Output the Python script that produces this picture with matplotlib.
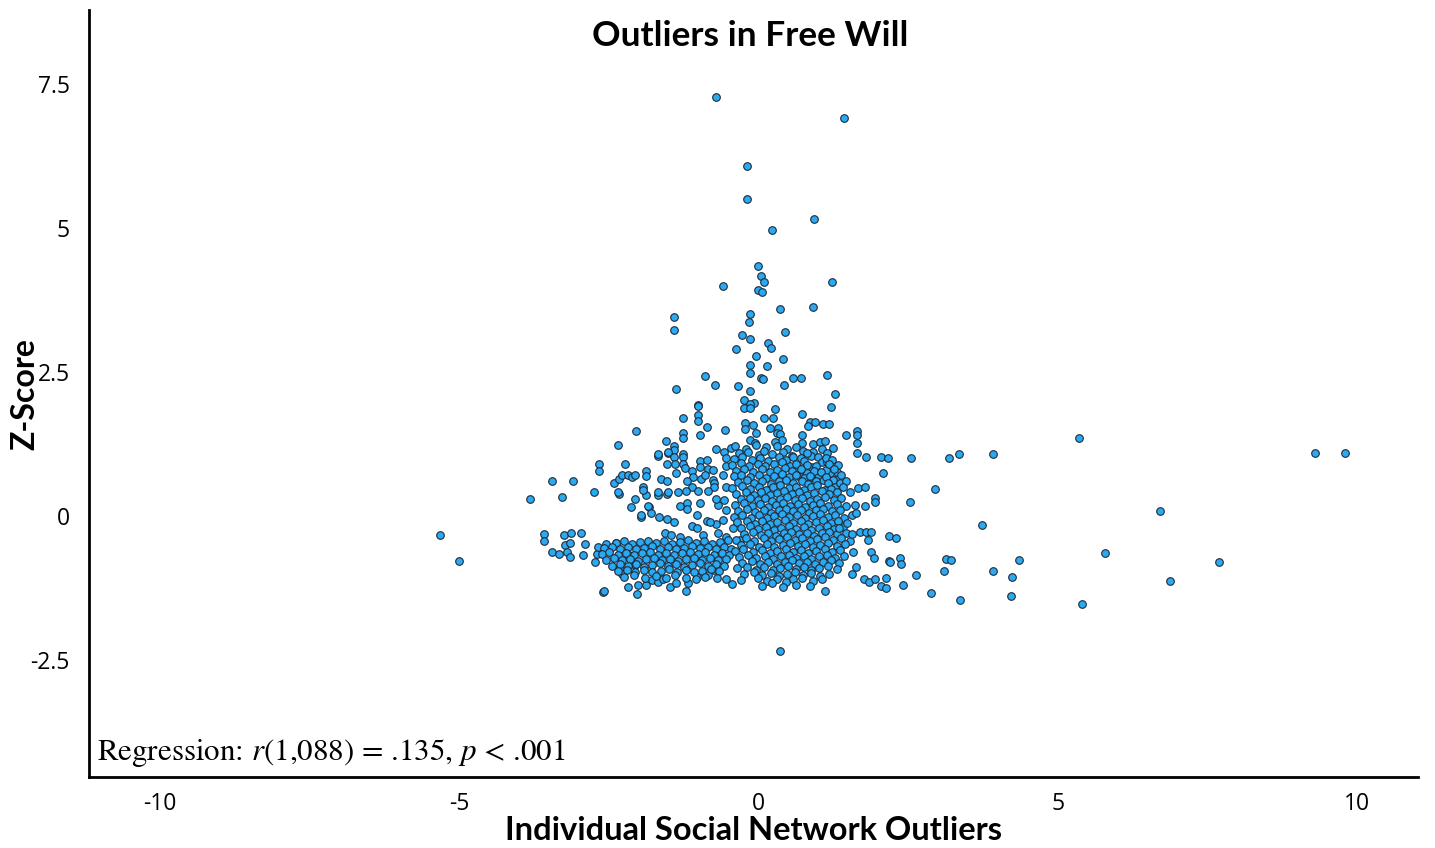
import numpy as np
import matplotlib.pyplot as plt

# ---------------------------------------------------------------
# data (x = network outlier score, y = z-score)
# ---------------------------------------------------------------
tail_pts = [
    (-0.72, 7.27), (1.43, 6.90), (-0.20, 6.08), (-0.20, 5.50), (0.92, 5.15), (0.22, 4.97),
    (-0.02, 4.34), (0.04, 4.17), (0.08, 4.06), (-0.60, 3.99), (1.23, 4.07), (-0.01, 3.92),
    (0.05, 3.89), (0.35, 3.60), (0.90, 3.62), (-1.41, 3.46), (-1.41, 3.23), (-0.15, 3.51),
    (-0.17, 3.37), (0.44, 3.19), (-0.28, 3.14), (-0.14, 3.08), (0.16, 3.00), (0.20, 2.92),
    (-0.38, 2.90), (-0.05, 2.78), (0.41, 2.72), (-0.14, 2.63), (-0.14, 2.49), (0.13, 2.60),
    (-0.90, 2.43), (0.03, 2.40), (0.07, 2.37), (0.57, 2.40), (0.71, 2.40), (1.14, 2.45),
    (-0.73, 2.28), (-0.35, 2.26), (0.42, 2.27), (-1.39, 2.20), (-0.14, 2.17), (1.28, 2.12),
    (-1.01, 1.92), (-0.25, 2.01), (-0.08, 1.97), (-0.14, 1.94), (-0.25, 1.88), (-0.14, 1.87),
    (0.27, 1.85), (1.21, 1.90),
]

upper_core_pts = [
    (0.08, 1.71), (0.24, 1.71), (0.73, 1.77), (0.85, 1.64), (0.94, 1.64), (0.82, 1.56),
    (1.07, 1.60), (1.18, 1.60), (-0.23, 1.62), (-0.10, 1.58), (-0.23, 1.51), (0.18, 1.52),
    (0.32, 1.52), (0.30, 1.44), (0.36, 1.42), (0.38, 1.32), (0.27, 1.29), (-0.04, 1.44),
    (-0.15, 1.32), (-0.07, 1.26), (0.72, 1.41), (0.72, 1.26), (0.74, 1.13), (0.90, 1.25),
    (1.02, 1.29), (1.10, 1.31), (0.91, 1.12), (1.06, 1.16), (1.14, 1.10), (1.24, 1.18),
    (0.70, 1.00), (0.88, 1.04), (0.99, 1.02), (1.05, 0.93), (1.14, 0.94),
    (1.30, 0.64), (1.30, 0.77), (1.19, 0.74), (1.24, 0.62), (1.13, 0.80), (1.07, 0.62),
    (0.99, 0.71), (0.88, 0.68), (0.88, 0.85), (0.80, 0.74), (0.69, 0.68), (0.66, 0.83),
    (1.27, 0.51), (1.10, 0.45),
]

upper_left_pts = [
    (-2.67, 0.90), (-2.67, 0.79), (-2.35, 1.24), (-2.05, 1.48), (-2.23, 0.90), (-2.34, 0.38),
    (-2.42, 0.57), (-2.34, 0.64), (-2.28, 0.72), (-2.19, 0.71), (-2.11, 0.68), (-2.07, 0.72),
    (-1.89, 0.78), (-1.89, 0.69), (-1.93, 0.50), (-1.89, 0.36), (-2.07, 0.29), (-2.13, 0.15),
    (-1.97, -0.01), (-1.84, 0.16), (-1.80, 0.06), (-1.67, -0.01), (-1.54, -0.05), (-1.69, 0.36),
    (-1.54, 0.38), (-1.64, 0.65), (-1.54, 0.61), (-1.68, 1.04), (-1.54, 0.90), (-1.51, 1.09),
    (-1.55, 1.30), (-1.02, 1.91), (-1.02, 1.75), (-1.02, 1.65), (-1.26, 1.70), (-0.86, 1.55),
    (-0.56, 1.49), (-1.26, 1.44), (-1.26, 1.35), (-0.99, 1.41), (-1.42, 1.22), (-1.42, 1.15),
    (-1.68, 1.07), (-1.52, 1.11), (-1.42, 1.03), (-1.26, 1.08), (-1.26, 1.03), (-1.26, 0.91),
    (-1.40, 0.90), (-1.38, 0.75), (-1.24, 0.83), (-1.11, 0.79), (-0.99, 0.95), (-0.99, 0.85),
    (-0.87, 0.97), (-0.85, 0.81), (-0.76, 0.80), (-1.10, 0.68), (-0.97, 0.65), (-0.90, 0.71),
    (-1.20, 0.60), (-1.11, 0.51), (-0.77, 0.63), (-0.74, 0.57), (-0.74, 0.51), (-0.71, 1.16),
    (-0.58, 1.12), (-0.46, 1.18), (-0.54, 1.00), (-0.54, 0.86), (-0.60, 0.71), (-0.54, 0.51),
    (-2.35, 0.42), (-1.93, 0.46), (-1.68, 0.42), (-1.52, 0.42), (-1.35, 0.42), (-1.21, 0.44),
    (-1.01, 0.44), (-0.85, 0.43), (-1.96, 0.02), (-1.85, 0.17), (-1.42, -0.10), (-1.32, 0.17),
    (-1.20, 0.23), (-1.20, 0.12), (-1.04, 0.02), (-0.99, 0.22), (-0.87, -0.08), (-0.72, -0.13),
    (-0.68, 0.19), (-0.54, 0.10), (-0.60, -0.07), (-0.82, -0.10), (-0.71, 0.30), (-0.58, 0.28),
]

left_band_pts = [
    (-3.59, -0.32), (-3.58, -0.44), (-3.45, -0.62), (-3.34, -0.66), (-3.25, -0.33), (-3.14, -0.30),
    (-2.97, -0.30), (-3.24, -0.51), (-3.15, -0.47), (-3.20, -0.63), (-3.16, -0.71), (-2.91, -0.49),
    (-2.93, -0.68), (-2.73, -0.79), (-2.70, -0.66), (-2.68, -0.53), (-2.56, -0.49), (-2.60, -1.31),
    (-2.34, -0.91), (-2.29, -1.01), (-2.39, -0.46), (-2.16, -0.68), (-2.07, -0.85),
    (-2.59, -1.30), (-2.18, -1.24), (-2.04, -1.35), (-2.02, -1.20), (-1.88, -1.20), (-1.79, -1.11),
    (-1.68, -1.14), (-1.60, -1.10), (-1.49, -1.23), (-1.38, -1.17), (-1.21, -1.30), (-1.18, -1.17),
    (-1.04, -1.05), (-0.85, -1.02), (-0.74, -0.94), (-0.54, -1.10), (-0.44, -1.18),
    (-1.57, -0.29), (-1.46, -0.33), (-1.32, -0.36), (-1.12, -0.17), (-1.04, -0.21), (-0.93, -0.33),
    (-0.68, -0.30), (-0.54, -0.36), (-0.43, -0.21), (-0.32, -0.42),
    (-2.38, -0.47), (-2.25, -0.44), (-2.12, -0.48), (-1.98, -0.45), (-1.85, -0.43), (-1.72, -0.47),
    (-1.58, -0.44), (-1.45, -0.49), (-1.32, -0.45), (-1.18, -0.42), (-1.05, -0.47), (-0.92, -0.44),
    (-0.78, -0.48), (-0.65, -0.45), (-0.52, -0.42),
    (-2.58, -0.56), (-2.45, -0.53), (-2.31, -0.57), (-2.18, -0.54), (-2.05, -0.58), (-1.91, -0.55),
    (-1.78, -0.52), (-1.65, -0.57), (-1.51, -0.54), (-1.38, -0.58), (-1.25, -0.55), (-1.11, -0.52),
    (-0.98, -0.56), (-0.85, -0.53), (-0.71, -0.57), (-0.58, -0.54), (-0.47, -0.58),
    (-2.62, -0.66), (-2.50, -0.63), (-2.36, -0.67), (-2.22, -0.64), (-2.09, -0.68), (-1.95, -0.65),
    (-1.82, -0.62), (-1.69, -0.67), (-1.55, -0.64), (-1.42, -0.68), (-1.29, -0.65), (-1.15, -0.62),
    (-1.02, -0.66), (-0.89, -0.63), (-0.75, -0.67), (-0.62, -0.64), (-0.50, -0.68),
    (-2.55, -0.76), (-2.42, -0.73), (-2.28, -0.77), (-2.15, -0.74), (-2.01, -0.78), (-1.88, -0.75),
    (-1.75, -0.72), (-1.61, -0.77), (-1.48, -0.74), (-1.35, -0.78), (-1.21, -0.75), (-1.08, -0.72),
    (-0.95, -0.76), (-0.81, -0.73), (-0.68, -0.77), (-0.55, -0.74),
    (-2.45, -0.86), (-2.32, -0.83), (-2.18, -0.87), (-2.05, -0.84), (-1.92, -0.88), (-1.78, -0.85),
    (-1.65, -0.82), (-1.52, -0.87), (-1.38, -0.84), (-1.25, -0.88), (-1.12, -0.85), (-0.98, -0.82),
    (-0.85, -0.86), (-0.72, -0.83), (-0.58, -0.87),
    (-2.35, -0.96), (-2.20, -0.93), (-2.06, -0.97), (-1.92, -0.94), (-1.78, -0.98), (-1.64, -0.95),
    (-1.50, -0.92), (-1.36, -0.97), (-1.22, -0.94), (-1.08, -0.98), (-0.94, -0.95), (-0.80, -0.92),
    (-0.66, -0.96),
    (-2.25, -1.06), (-2.08, -1.03), (-1.90, -1.07), (-1.72, -1.04), (-1.55, -1.08), (-1.40, -1.02),
    (-1.22, -1.07), (-1.05, -1.10), (-0.90, -1.05), (-0.70, -1.08),
]

core_pts = [
    (-0.40, 1.21), (-0.22, 1.17), (-0.05, 1.23), (0.12, 1.19), (0.30, 1.22), (0.48, 1.16), (0.62, 1.20),
    (-0.33, 1.09), (-0.18, 1.12), (0.00, 1.06), (0.08, 1.13), (0.22, 1.08), (0.40, 1.11), (0.55, 1.05),
    (0.80, 1.10),
    (-0.42, 0.99), (-0.28, 1.03), (-0.12, 0.97), (0.02, 1.01), (0.15, 0.96), (0.33, 1.02), (0.45, 0.98),
    (0.58, 1.03), (0.75, 0.96), (1.12, 1.00), (1.22, 0.97),
    (-0.45, 0.88), (-0.30, 0.92), (-0.16, 0.87), (-0.02, 0.91), (0.10, 0.86), (0.25, 0.90), (0.38, 0.93),
    (0.52, 0.87), (0.63, 0.91), (0.80, 0.89), (0.95, 0.86), (1.18, 0.90), (1.32, 0.88),
    (-0.38, 0.79), (-0.25, 0.82), (-0.10, 0.77), (0.05, 0.81), (0.18, 0.76), (0.30, 0.80), (0.44, 0.83),
    (0.56, 0.78), (0.70, 0.82), (0.92, 0.79), (1.04, 0.77), (1.25, 0.81),
    (-0.42, 0.69), (-0.30, 0.72), (-0.15, 0.67), (0.00, 0.71), (0.12, 0.66), (0.26, 0.70), (0.38, 0.73),
    (0.50, 0.68), (0.62, 0.71), (0.75, 0.66), (0.86, 0.70), (1.12, 0.68), (1.38, 0.71),
    (-0.35, 0.59), (-0.20, 0.62), (-0.08, 0.57), (0.06, 0.61), (0.20, 0.56), (0.33, 0.60), (0.46, 0.63),
    (0.58, 0.58), (0.72, 0.61), (0.83, 0.56), (0.95, 0.60), (1.15, 0.58), (1.36, 0.57), (1.46, 0.61),
    (-0.45, 0.49), (-0.28, 0.52), (-0.14, 0.47), (0.00, 0.51), (0.12, 0.46), (0.24, 0.50), (0.36, 0.53),
    (0.50, 0.48), (0.62, 0.51), (0.76, 0.46), (0.88, 0.50), (0.98, 0.53), (1.20, 0.47), (1.40, 0.50),
    (-0.38, 0.39), (-0.22, 0.42), (-0.08, 0.37), (0.04, 0.41), (0.18, 0.36), (0.30, 0.40), (0.42, 0.43),
    (0.55, 0.38), (0.68, 0.41), (0.80, 0.36), (0.93, 0.40), (1.05, 0.43), (1.17, 0.38), (1.30, 0.41),
    (-0.30, 0.29), (-0.15, 0.32), (-0.02, 0.27), (0.10, 0.31), (0.22, 0.26), (0.35, 0.30), (0.48, 0.33),
    (0.60, 0.28), (0.72, 0.31), (0.86, 0.26), (0.98, 0.30), (1.10, 0.33), (1.25, 0.28), (1.38, 0.31),
    (-0.40, 0.19), (-0.25, 0.22), (-0.12, 0.17), (0.02, 0.21), (0.15, 0.16), (0.28, 0.20), (0.40, 0.23),
    (0.53, 0.18), (0.66, 0.21), (0.78, 0.16), (0.90, 0.20), (1.02, 0.23), (1.15, 0.18), (1.30, 0.21),
    (1.45, 0.17),
    (-0.34, 0.09), (-0.20, 0.12), (-0.06, 0.07), (0.08, 0.11), (0.20, 0.06), (0.33, 0.10), (0.46, 0.13),
    (0.58, 0.08), (0.70, 0.11), (0.84, 0.06), (0.96, 0.10), (1.08, 0.13), (1.22, 0.08), (1.36, 0.11),
    (-0.42, -0.01), (-0.28, 0.02), (-0.13, -0.03), (0.00, 0.01), (0.13, -0.04), (0.26, 0.00), (0.38, 0.03),
    (0.51, -0.02), (0.64, 0.01), (0.77, -0.04), (0.90, 0.00), (1.02, 0.03), (1.15, -0.02), (1.28, 0.01),
    (1.42, -0.03), (1.55, 0.02),
    (-0.36, -0.11), (-0.20, -0.08), (-0.07, -0.13), (0.06, -0.09), (0.19, -0.14), (0.31, -0.10),
    (0.44, -0.07), (0.57, -0.12), (0.70, -0.09), (0.82, -0.14), (0.95, -0.10), (1.08, -0.07),
    (1.20, -0.12), (1.33, -0.09),
    (-0.30, -0.21), (-0.15, -0.18), (-0.02, -0.23), (0.12, -0.19), (0.25, -0.24), (0.37, -0.20),
    (0.50, -0.17), (0.63, -0.22), (0.75, -0.19), (0.88, -0.24), (1.00, -0.20), (1.14, -0.17),
    (1.26, -0.22), (1.40, -0.19),
    (-0.25, -0.31), (-0.10, -0.28), (0.03, -0.33), (0.16, -0.29), (0.29, -0.34), (0.42, -0.30),
    (0.54, -0.27), (0.67, -0.32), (0.80, -0.29), (0.93, -0.34), (1.05, -0.30), (1.18, -0.27),
    (1.30, -0.32), (1.45, -0.29),
    (-0.38, -0.41), (-0.22, -0.38), (-0.08, -0.43), (0.08, -0.39), (0.21, -0.44), (0.34, -0.40),
    (0.47, -0.37), (0.60, -0.42), (0.72, -0.39), (0.85, -0.44), (0.98, -0.40), (1.10, -0.37),
    (1.24, -0.42), (1.38, -0.39), (1.52, -0.44),
    (-0.30, -0.51), (-0.15, -0.48), (0.00, -0.53), (0.13, -0.49), (0.26, -0.54), (0.40, -0.50),
    (0.52, -0.47), (0.65, -0.52), (0.78, -0.49), (0.90, -0.54), (1.03, -0.50), (1.16, -0.47),
    (1.30, -0.52), (1.44, -0.49),
    (-0.40, -0.61), (-0.26, -0.58), (-0.10, -0.63), (0.05, -0.59), (0.18, -0.64), (0.31, -0.60),
    (0.45, -0.57), (0.57, -0.62), (0.70, -0.59), (0.83, -0.64), (0.96, -0.60), (1.10, -0.57),
    (1.22, -0.62), (1.36, -0.59), (1.58, -0.63),
    (-0.33, -0.71), (-0.18, -0.68), (-0.04, -0.73), (0.10, -0.69), (0.24, -0.74), (0.37, -0.70),
    (0.50, -0.67), (0.62, -0.72), (0.75, -0.69), (0.88, -0.74), (1.00, -0.70), (1.14, -0.67),
    (1.28, -0.72), (1.42, -0.69),
    (-0.28, -0.81), (-0.12, -0.78), (0.02, -0.83), (0.16, -0.79), (0.30, -0.84), (0.43, -0.80),
    (0.56, -0.77), (0.68, -0.82), (0.81, -0.79), (0.94, -0.84), (1.07, -0.80), (1.20, -0.77),
    (1.34, -0.82),
    (-0.36, -0.91), (-0.20, -0.88), (-0.05, -0.93), (0.09, -0.89), (0.23, -0.94), (0.36, -0.90),
    (0.49, -0.87), (0.62, -0.92), (0.75, -0.89), (0.88, -0.94), (1.01, -0.90), (1.15, -0.87),
    (1.30, -0.92),
    (-0.25, -1.01), (-0.08, -0.98), (0.06, -1.03), (0.20, -0.99), (0.34, -1.04), (0.48, -1.00),
    (0.60, -0.97), (0.74, -1.02), (0.88, -0.99), (1.02, -1.04), (1.18, -1.00),
    (-0.30, -1.11), (-0.02, -1.08), (0.14, -1.13), (0.30, -1.09), (0.45, -1.14), (0.58, -1.10),
    (0.72, -1.07), (0.90, -1.12), (1.05, -1.09),
    (0.05, -1.21), (0.22, -1.17), (0.40, -1.23), (0.62, -1.19), (0.85, -1.22),
]

right_pts = [
    (1.46, 1.41), (1.64, 1.48), (1.64, 1.41), (1.64, 1.26), (1.64, 1.09), (1.79, 1.03), (2.04, 1.02),
    (2.16, 1.01), (2.55, 1.00), (2.07, 0.75), (1.66, 0.48), (1.77, 0.50), (1.52, 0.42), (1.60, 0.19),
    (1.77, 0.18), (1.94, 0.31), (1.94, 0.24), (1.63, 0.05), (1.47, -0.12), (1.34, -0.20), (1.55, -0.31),
    (1.69, -0.27), (1.79, -0.27), (1.88, -0.27), (1.83, -0.41), (2.18, -0.35), (2.30, -0.38),
    (1.88, -0.62), (1.93, -0.73), (2.18, -0.78), (2.36, -0.73), (2.37, -0.83), (1.62, -0.89),
    (1.55, -1.00), (1.75, -1.09), (1.84, -1.15), (1.95, -1.09), (2.12, -1.07), (2.05, -1.22),
    (2.13, -1.25), (1.10, -1.30), (2.41, -1.20), (2.52, 0.25), (2.95, 0.47), (2.20, -0.79),
]

far_pts = [
    (3.18, 1.01), (3.35, 1.08), (3.91, 1.07), (5.35, 1.35), (9.29, 1.10), (9.80, 1.09), (6.70, 0.09),
    (3.73, -0.16), (5.78, -0.65), (7.69, -0.79), (6.87, -1.13), (4.35, -0.77), (3.91, -0.95),
    (4.23, -1.05), (4.22, -1.39), (5.40, -1.53), (3.36, -1.45), (2.88, -1.33), (2.63, -1.02),
    (3.09, -0.96), (3.13, -0.74), (3.21, -0.76),
    (-5.33, -0.33), (-5.00, -0.78), (-3.83, 0.30), (-3.46, 0.61), (-3.10, 0.60), (-3.28, 0.33),
    (-2.76, 0.42), (0.35, -2.34),
]

x_ticks = [-10, -5, 0, 5, 10]
y_ticks = [-2.5, 0, 2.5, 5, 7.5]
y_tick_labels = ["-2.5", "0", "2.5", "5", "7.5"]

# ---------------------------------------------------------------
pts = np.array(tail_pts + upper_core_pts + upper_left_pts + left_band_pts
               + core_pts + right_pts + far_pts)

plt.rcParams['font.family'] = ['Open Sans', 'DejaVu Sans']
plt.rcParams['mathtext.fontset'] = 'stix'

fig = plt.figure(figsize=(14.35, 8.48), dpi=100)
ax = fig.add_axes([0.062, 0.0837, 0.926, 0.9043])

ax.scatter(pts[:, 0], pts[:, 1], s=30, c='#2ba9f3', edgecolors='#1c2b3a',
           linewidths=0.8, zorder=3)

ax.set_xlim(-11.19, 11.01)
ax.set_ylim(-4.53, 8.78)
ax.set_xticks(x_ticks)
ax.set_xticklabels([str(t) for t in x_ticks])
ax.set_yticks(y_ticks)
ax.set_yticklabels(y_tick_labels)
ax.tick_params(axis='both', length=0, labelsize=16.5)
ax.tick_params(axis='y', pad=14)
ax.tick_params(axis='x', pad=11)

for side in ['top', 'right']:
    ax.spines[side].set_visible(False)
for side in ['left', 'bottom']:
    ax.spines[side].set_linewidth(2)
    ax.spines[side].set_color('black')

ax.set_xlabel("Individual Social Network Outliers", fontsize=23.5, fontweight='bold',
              family='Lato', labelpad=0)
ax.set_ylabel("Z-Score", fontsize=23, fontweight='bold', family='Lato', labelpad=-7)
fig.text(0.5226, 1 - 36 / 848, "Outliers in Free Will", fontsize=25.4, fontweight='bold',
         family='Lato', ha='center', va='center')

ax.text(0.006, 0.031, r"Regression: $r$(1,088) = .135, $p$ < .001", transform=ax.transAxes,
        fontsize=22.3, family='STIXGeneral', ha='left', va='center')

fig.savefig("out.png", dpi=100)
